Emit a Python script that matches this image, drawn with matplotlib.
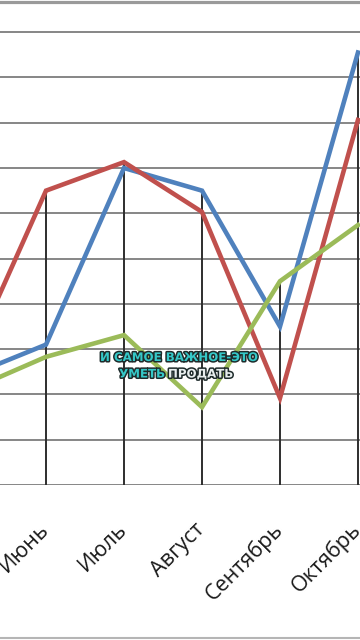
import matplotlib
matplotlib.use('Agg')
import matplotlib.pyplot as plt
import matplotlib.patheffects as pe
from matplotlib.lines import Line2D

# Данные (шкала 0..10)
months = ['Май', 'Июнь', 'Июль', 'Август', 'Сентябрь', 'Октябрь']
series_blue = [2.4, 3.1, 7.0, 6.5, 3.5, 9.55]
series_red = [2.65, 6.5, 7.13, 6.03, 1.92, 8.06]
series_green = [2.08, 2.83, 3.31, 1.72, 4.5, 5.74]
caption_top = 'И САМОЕ ВАЖНОЕ-ЭТО'
caption_bottom = ['УМЕТЬ', 'ПРОДАТЬ']

plt.rcParams['font.family'] = ['Open Sans', 'DejaVu Sans']

W, H = 360, 640
fig = plt.figure(figsize=(W / 100, H / 100), dpi=100)
fig.patch.set_facecolor('white')

axis_px = 485  # положение оси X (пиксели сверху)
ax = fig.add_axes([0, (H - axis_px) / H, 1, axis_px / H])
ax.set_facecolor('white')

x = list(range(len(months)))

# горизонтальная сетка
ax.set_yticks(range(0, 11))
ax.yaxis.grid(True, color='#868686', linewidth=1.4, zorder=0)
ax.tick_params(axis='y', length=0, labelleft=False)
for s in ax.spines.values():
    s.set_visible(False)
ax.set_axisbelow(True)

# линии проекции от максимума вниз
tops = [max(b, r, g) for b, r, g in zip(series_blue, series_red, series_green)]
ax.vlines(x, 0, tops, color='#2e2e2e', linewidth=1.4, zorder=1)

ax.plot(x, series_blue, color='#4F81BD', linewidth=3.3, zorder=3, solid_joinstyle='miter')
ax.plot(x, series_red, color='#C0504D', linewidth=3.3, zorder=4, solid_joinstyle='miter')
ax.plot(x, series_green, color='#9BBB59', linewidth=3.3, zorder=5, solid_joinstyle='miter')

ax.set_xticks(x)
ax.set_xticklabels(months, rotation=45, ha='right', va='center',
                   rotation_mode='anchor', fontsize=15.5, color='#1a1a1a')
ax.tick_params(axis='x', length=0, pad=30)

# пределы после set_xticks, иначе ось расширяется
ax.set_xlim(0.41, 5.026)
ax.set_ylim(0, 10.71)

# рамки сверху и снизу
fig.add_artist(Line2D([0, 1], [1 - 1.5 / H, 1 - 1.5 / H], color='#9a9a9a', linewidth=2.3))
fig.add_artist(Line2D([0, 1], [2 / H, 2 / H], color='#b5b5b5', linewidth=1.5))

# подпись
stroke = [pe.withStroke(linewidth=2.2, foreground='#1e2b2b')]
fig.text(179 / W, 1 - 357.5 / H, caption_top, ha='center', va='center',
         fontsize=8.5, fontweight='bold', family='DejaVu Sans', color='#35c8c8',
         path_effects=stroke)
fig.text(165 / W, 1 - 374 / H, caption_bottom[0], ha='right', va='center',
         fontsize=8.5, fontweight='bold', family='DejaVu Sans', color='#35c8c8',
         path_effects=stroke)
fig.text(168 / W, 1 - 374 / H, caption_bottom[1], ha='left', va='center',
         fontsize=8.5, fontweight='bold', family='DejaVu Sans', color='#e8eeee',
         path_effects=stroke)

fig.savefig('out.png', dpi=100)
